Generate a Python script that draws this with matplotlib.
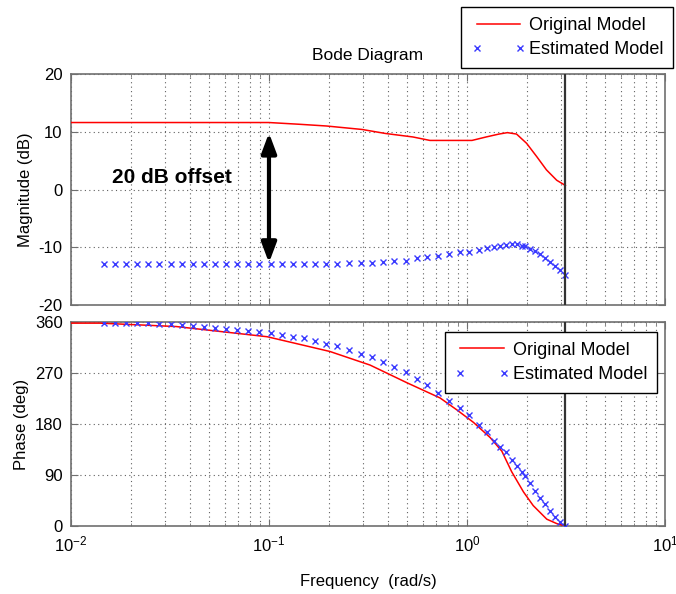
"""Bode diagram: original model vs estimated model (20 dB offset in magnitude)."""

import matplotlib
matplotlib.use("Agg")
import matplotlib.pyplot as plt
import numpy as np
from matplotlib.ticker import LogLocator, NullFormatter, FixedLocator

plt.rcParams["font.family"] = ["Liberation Sans", "DejaVu Sans"]
plt.rcParams["mathtext.fontset"] = "custom"
plt.rcParams["mathtext.rm"] = "Liberation Sans"
plt.rcParams["mathtext.default"] = "regular"
plt.rcParams["axes.unicode_minus"] = False

# ---- data ---------------------------------------------------------------------
W_NYQ = 3.1416   # vertical line / end of data (rad/s)

# original model (solid red)
orig_mag_w = [0.01, 0.1, 0.142, 0.195, 0.295, 0.388, 0.533, 0.65, 1.06, 1.25,
              1.45, 1.6, 1.78, 2.0, 2.25, 2.52, 2.84, 3.1416]
orig_mag = [11.6, 11.6, 11.3, 11.0, 10.4, 9.7, 9.1, 8.5, 8.5, 9.1,
            9.6, 9.85, 9.6, 8.0, 5.7, 3.4, 1.6, 0.7]

orig_ph_w = [0.01, 0.014, 0.034, 0.098, 0.203, 0.324, 0.496, 0.731, 0.888, 1.077,
             1.31, 1.50, 1.68, 1.93, 2.16, 2.53, 2.85, 3.1416]
orig_ph = [358, 358, 352, 334, 308, 284, 253, 226, 205, 183,
           156, 132, 96, 60, 36, 12, 4, 0]

# estimated model (blue x markers)
est_w = [0.01468, 0.01668, 0.01896, 0.02154, 0.02448, 0.02783, 0.03199, 0.03636,
         0.04132, 0.04697, 0.05337, 0.06066, 0.06894, 0.07834, 0.08904, 0.1023,
         0.1163, 0.1322, 0.1502, 0.1707, 0.1940, 0.2205, 0.2535, 0.2915, 0.3313,
         0.3765, 0.4279, 0.4920, 0.5591, 0.6284, 0.7142, 0.8117, 0.9226, 1.0235,
         1.150, 1.262, 1.368, 1.468, 1.574, 1.687, 1.789, 1.896, 1.963, 2.081,
         2.205, 2.338, 2.477, 2.626, 2.783, 2.950, 3.1416]
est_mag = [-12.9, -12.9, -12.9, -12.9, -12.9, -12.9, -12.9, -12.9,
           -12.9, -12.9, -12.9, -12.9, -12.9, -12.9, -12.9, -12.9,
           -12.9, -12.9, -12.9, -12.9, -12.9, -12.9, -12.7, -12.7, -12.7,
           -12.6, -12.3, -12.3, -11.8, -11.6, -11.5, -11.2, -10.9, -10.8,
           -10.4, -10.1, -10.0, -9.8, -9.6, -9.4, -9.4, -9.7, -9.8, -10.3,
           -10.7, -11.2, -11.9, -12.6, -13.2, -13.9, -14.8]
est_ph = [358, 358, 358, 358, 358, 357, 356, 355,
          353, 352, 350, 348, 346, 344, 342, 340,
          337, 334, 331, 327, 322, 317, 310, 304, 298,
          289, 280, 271, 260, 248, 235, 221, 208, 196,
          179, 165, 150, 140, 130, 117, 106, 95, 88, 76,
          62, 50, 38, 26, 15, 7, 0]

MAG_TICKS = [-20, -10, 0, 10, 20]
PH_TICKS = [0, 90, 180, 270, 360]
LABELS = ["Original Model", "Estimated Model"]

RED = "#ff0000"
BLUE = "#3a3aff"
SPINE = "#707070"
GRID = dict(color="#606060", linestyle=(0, (1, 3)), linewidth=0.8)


def style_axes(ax):
    ax.set_xscale("log")
    ax.set_xlim(1e-2, 1e1)
    ax.xaxis.set_major_locator(LogLocator(base=10))
    ax.xaxis.set_minor_locator(LogLocator(base=10, subs=np.arange(2, 10)))
    ax.xaxis.set_minor_formatter(NullFormatter())
    ax.tick_params(which="both", direction="in", top=True, right=True,
                   labelsize=12, colors="#000000")
    ax.tick_params(which="major", length=5, pad=6, color=SPINE)
    ax.tick_params(which="minor", length=2.5, color=SPINE)
    for s in ax.spines.values():
        s.set_color(SPINE)
        s.set_linewidth(1.2)
    ax.grid(True, which="major", axis="both", **GRID)
    ax.grid(True, which="minor", axis="x", **GRID)
    ax.axvline(W_NYQ, color="#333333", lw=1.6, zorder=4)


def main():
    fig = plt.figure(figsize=(6.76, 5.94), dpi=100)
    ax1 = fig.add_axes([0.105, 0.4865, 0.8787, 0.3889])
    ax2 = fig.add_axes([0.105, 0.1145, 0.8787, 0.3434])

    # magnitude
    l1, = ax1.plot(orig_mag_w, orig_mag, color=RED, lw=1.1, zorder=3)
    m1, = ax1.plot(est_w, est_mag, ls="", marker="x", ms=5, mew=1.0, color=BLUE, zorder=3)
    style_axes(ax1)
    ax1.set_ylim(-20, 20)
    ax1.yaxis.set_major_locator(FixedLocator(MAG_TICKS))
    ax1.set_xticklabels([])
    ax1.set_ylabel("Magnitude (dB)", fontsize=12, labelpad=4)
    ax1.set_title("Bode Diagram", fontsize=12.5, pad=10)

    ax1.annotate("", xy=(0.1, -12.7), xytext=(0.1, 9.8),
                 arrowprops=dict(arrowstyle="<|-|>,head_length=1.2,head_width=0.45",
                                 color="k", lw=3, shrinkA=0, shrinkB=0),
                 zorder=5)
    ax1.text(0.0323, 2.0, "20 dB offset", fontsize=15, fontweight="bold",
             ha="center", va="center")

    # phase
    ax2.plot(orig_ph_w, orig_ph, color=RED, lw=1.1, zorder=3)
    ax2.plot(est_w, est_ph, ls="", marker="x", ms=5, mew=1.0, color=BLUE, zorder=3)
    style_axes(ax2)
    ax2.set_ylim(0, 360)
    ax2.yaxis.set_major_locator(FixedLocator(PH_TICKS))
    ax2.set_ylabel("Phase (deg)", fontsize=12, labelpad=4)
    ax2.set_xlabel("Frequency  (rad/s)", fontsize=12, labelpad=14)

    leg_kw = dict(fontsize=13, numpoints=2, handlelength=3.0, handletextpad=0.2,
                  labelspacing=0.4, borderpad=0.55, fancybox=False,
                  edgecolor="k", framealpha=1, borderaxespad=0)
    lg1 = fig.legend([l1, m1], LABELS, loc="upper right",
                     bbox_to_anchor=(0.996, 0.988), **leg_kw)
    lg1.get_frame().set_linewidth(1.0)
    lg2 = ax2.legend([l1, m1], LABELS, loc="upper right",
                     bbox_to_anchor=(0.9865, 0.952), **leg_kw)
    lg2.get_frame().set_linewidth(1.0)
    lg2.set_zorder(6)

    fig.savefig("out.png", dpi=100)
    plt.close(fig)


if __name__ == "__main__":
    main()
